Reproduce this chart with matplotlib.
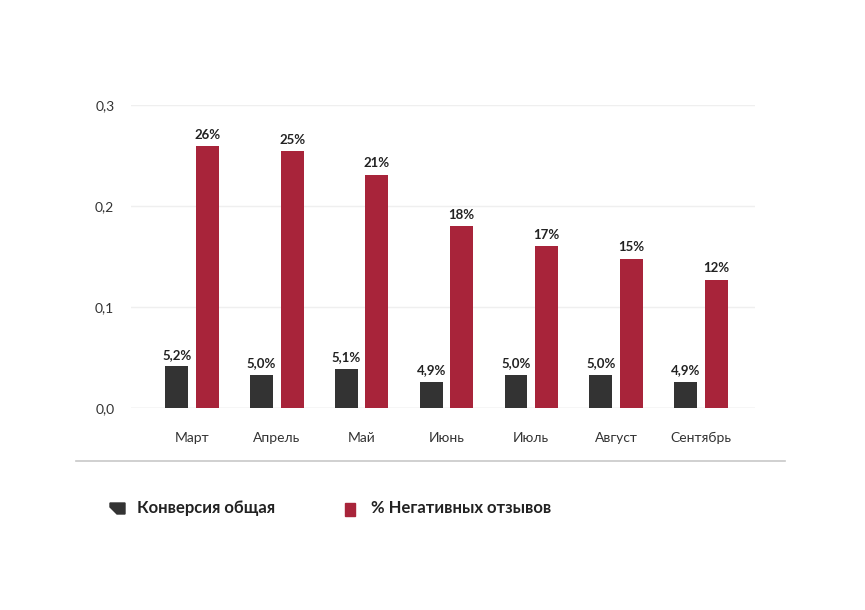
import numpy as np
import matplotlib.pyplot as plt
from matplotlib.lines import Line2D
from matplotlib.patches import Rectangle, Polygon

plt.rcParams['font.family'] = ['Lato', 'DejaVu Sans']

# данные с графика
months = ['Март', 'Апрель', 'Май', 'Июнь', 'Июль', 'Август', 'Сентябрь']
conversion = [0.0415, 0.033, 0.039, 0.026, 0.033, 0.033, 0.026]
conversion_labels = ['5,2%', '5,0%', '5,1%', '4,9%', '5,0%', '5,0%', '4,9%']
negative = [0.259, 0.254, 0.231, 0.180, 0.160, 0.148, 0.127]
negative_labels = ['26%', '25%', '21%', '18%', '17%', '15%', '12%']
y_ticks = [0.0, 0.1, 0.2, 0.3]
y_tick_labels = ['0,0', '0,1', '0,2', '0,3']

dark = '#333333'
red = '#a8243a'

fig = plt.figure(figsize=(8.65, 6.1), dpi=100)
ax = fig.add_axes([0.1514, 0.331, 0.7216, 0.497])

x = np.arange(len(months))
w = 0.27
off = 0.18
b1 = ax.bar(x - off, conversion, width=w, color=dark, zorder=3)
b2 = ax.bar(x + off, negative, width=w, color=red, zorder=3)

for rect, lab in zip(b1, conversion_labels):
    ax.annotate(lab, (rect.get_x() + rect.get_width() / 2, rect.get_height()),
                xytext=(0, 4), textcoords='offset points', ha='center', va='bottom',
                fontsize=9.5, fontweight='bold', color='#222222')
for rect, lab in zip(b2, negative_labels):
    ax.annotate(lab, (rect.get_x() + rect.get_width() / 2, rect.get_height()),
                xytext=(0, 4), textcoords='offset points', ha='center', va='bottom',
                fontsize=9.5, fontweight='bold', color='#222222')

ax.set_xlim(-0.72, 6.64)
ax.set_ylim(0, 0.3)
ax.set_yticks(y_ticks)
ax.set_yticklabels(y_tick_labels)
ax.set_xticks(x)
ax.set_xticklabels(months)
ax.tick_params(axis='both', length=0, labelsize=10, labelcolor='#333333')
ax.tick_params(axis='x', pad=17)
ax.tick_params(axis='y', pad=12)
ax.grid(axis='y', color='#efefef', linewidth=1, zorder=0)
ax.set_axisbelow(True)
for s in ax.spines.values():
    s.set_visible(False)
ax.axhline(0, color='#e4e4e4', linewidth=1, zorder=1)

# разделительная линия
fig.add_artist(Line2D([76 / 865, 785 / 865], [1 - 461 / 610, 1 - 461 / 610],
                      color='#c8c8c8', linewidth=1.2))

# легенда
def px(xp, yp):
    return (xp / 865, 1 - yp / 610)

fig.add_artist(Polygon([px(110, 503), px(125, 503), px(125, 514),
                        px(117, 514), px(110, 507)],
                       closed=True, color=dark))
fig.text(*px(137, 508), 'Конверсия общая', fontsize=12, fontweight='bold',
         va='center', ha='left', color='#222222')
fig.add_artist(Rectangle(px(345, 516), 10 / 865, 13 / 610, color=red))
fig.text(*px(371, 508), '% Негативных отзывов', fontsize=12, fontweight='bold',
         va='center', ha='left', color='#222222')

fig.savefig('out.png', dpi=100, facecolor='white')
